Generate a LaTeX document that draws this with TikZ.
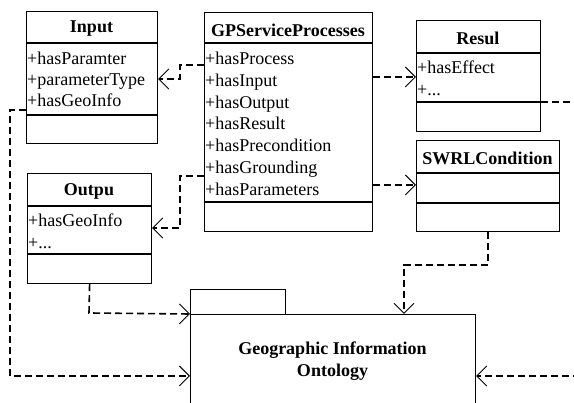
\documentclass[tikz,border=0pt]{standalone}
\usepackage{fontspec}
\setmainfont{Liberation Serif}
\usetikzlibrary{arrows.meta}
\begin{document}
\begin{tikzpicture}[x=1pt,y=-1pt,
  box/.style={draw, line width=1.2pt, rectangle, inner sep=0pt, anchor=north west},
  sep/.style={line width=1.2pt},
  head/.style={font=\fontsize{18}{22}\selectfont\bfseries, inner sep=0pt, yshift=-2pt},
  attr/.style={font=\fontsize{18}{22}\selectfont, inner sep=0pt, anchor=west, text height=12pt, text depth=4pt, yshift=-3pt},
  dep/.style={line width=1.6pt, dash pattern=on 7pt off 4pt,
    -{Straight Barb[length=10pt,width=20pt,line width=0.9pt]}},
  depn/.style={line width=1.6pt, dash pattern=on 7pt off 4pt}
]
\useasboundingbox (0,0) rectangle (574,403);
\clip (0,0) rectangle (574,403);
\fill[white] (0,0) rectangle (574,403);

% Input
\node[box, minimum width=131pt, minimum height=132pt] (input) at (26,11) {};
\draw[sep] (26,43) -- (157,43) (26,115) -- (157,115);
\node[head] (inputh) at (91.5,27) {Input};
\node[attr] (inputa1) at (27,58) {+hasParamter};
\node[attr] (inputa2) at (27,79) {+parameterType};
\node[attr] (inputa3) at (27,100) {+hasGeoInfo};

% GPServiceProcesses
\node[box, minimum width=168pt, minimum height=219pt] (gp) at (204,12) {};
\draw[sep] (204,43) -- (372,43) (204,202) -- (372,202);
\node[head] (gph) at (288,28) {GPServiceProcesses};
\node[attr] (gpa1) at (205,58) {+hasProcess};
\node[attr] (gpa2) at (205,80) {+hasInput};
\node[attr] (gpa3) at (205,101.5) {+hasOutput};
\node[attr] (gpa4) at (205,123) {+hasResult};
\node[attr] (gpa5) at (205,145) {+hasPrecondition};
\node[attr] (gpa6) at (205,167) {+hasGrounding};
\node[attr] (gpa7) at (205,189) {+hasParameters};

% Resul
\node[box, minimum width=124pt, minimum height=111pt] (res) at (416,20) {};
\draw[sep] (416,53) -- (540,53) (416,102) -- (540,102);
\node[head] (resh) at (478,36.5) {Resul};
\node[attr] (resa1) at (417,67) {+hasEffect};
\node[attr] (resa2) at (417,89) {+...};

% SWRLCondition
\node[box, minimum width=143pt, minimum height=91pt] (swrl) at (416,140) {};
\draw[sep] (416,173) -- (559,173) (416,203) -- (559,203);
\node[head] (swrlh) at (487.5,156.5) {SWRLCondition};

% Outpu
\node[box, minimum width=124pt, minimum height=110pt] (outp) at (27,173) {};
\draw[sep] (27,206) -- (151,206) (27,254) -- (151,254);
\node[head] (outph) at (89,189.5) {Outpu};
\node[attr] (outpa1) at (28,220) {+hasGeoInfo};
\node[attr] (outpa2) at (28,242) {+...};

% Geographic Information Ontology (package)
\node[box, minimum width=95pt, minimum height=25pt] (tab) at (190,289) {};
\node[box, minimum width=285pt, minimum height=120pt] (geo) at (190,314) {};
\node[head, align=center] (geot) at (332.5,359) {Geographic Information\\Ontology};

% connectors
\draw[dep] (gp.west |- 0,65) -- (180,65) |- (input.east |- 0,79);
\draw[dep] (gp.west |- 0,176) -- (180,176) |- (outp.east |- 0,228);
\draw[dep] (gp.east |- 0,77) -- (res.west |- 0,77);
\draw[dep] (gp.east |- 0,185) -- (swrl.west |- 0,185);
\draw[depn] (res.east |- 0,102) -- (580,102);
\draw[dep] (580,376) -- (geo.east |- 0,376);
\draw[dep] (swrl.south -| 488,0) -- (488,265) -| (geo.north -| 404,0);
\draw[dep] (outp.south) -- (89,313) -- (geo.north west);
\draw[dep] (input.west |- 0,110) -- (10,110) |- (geo.west |- 0,376);
\end{tikzpicture}
\end{document}
